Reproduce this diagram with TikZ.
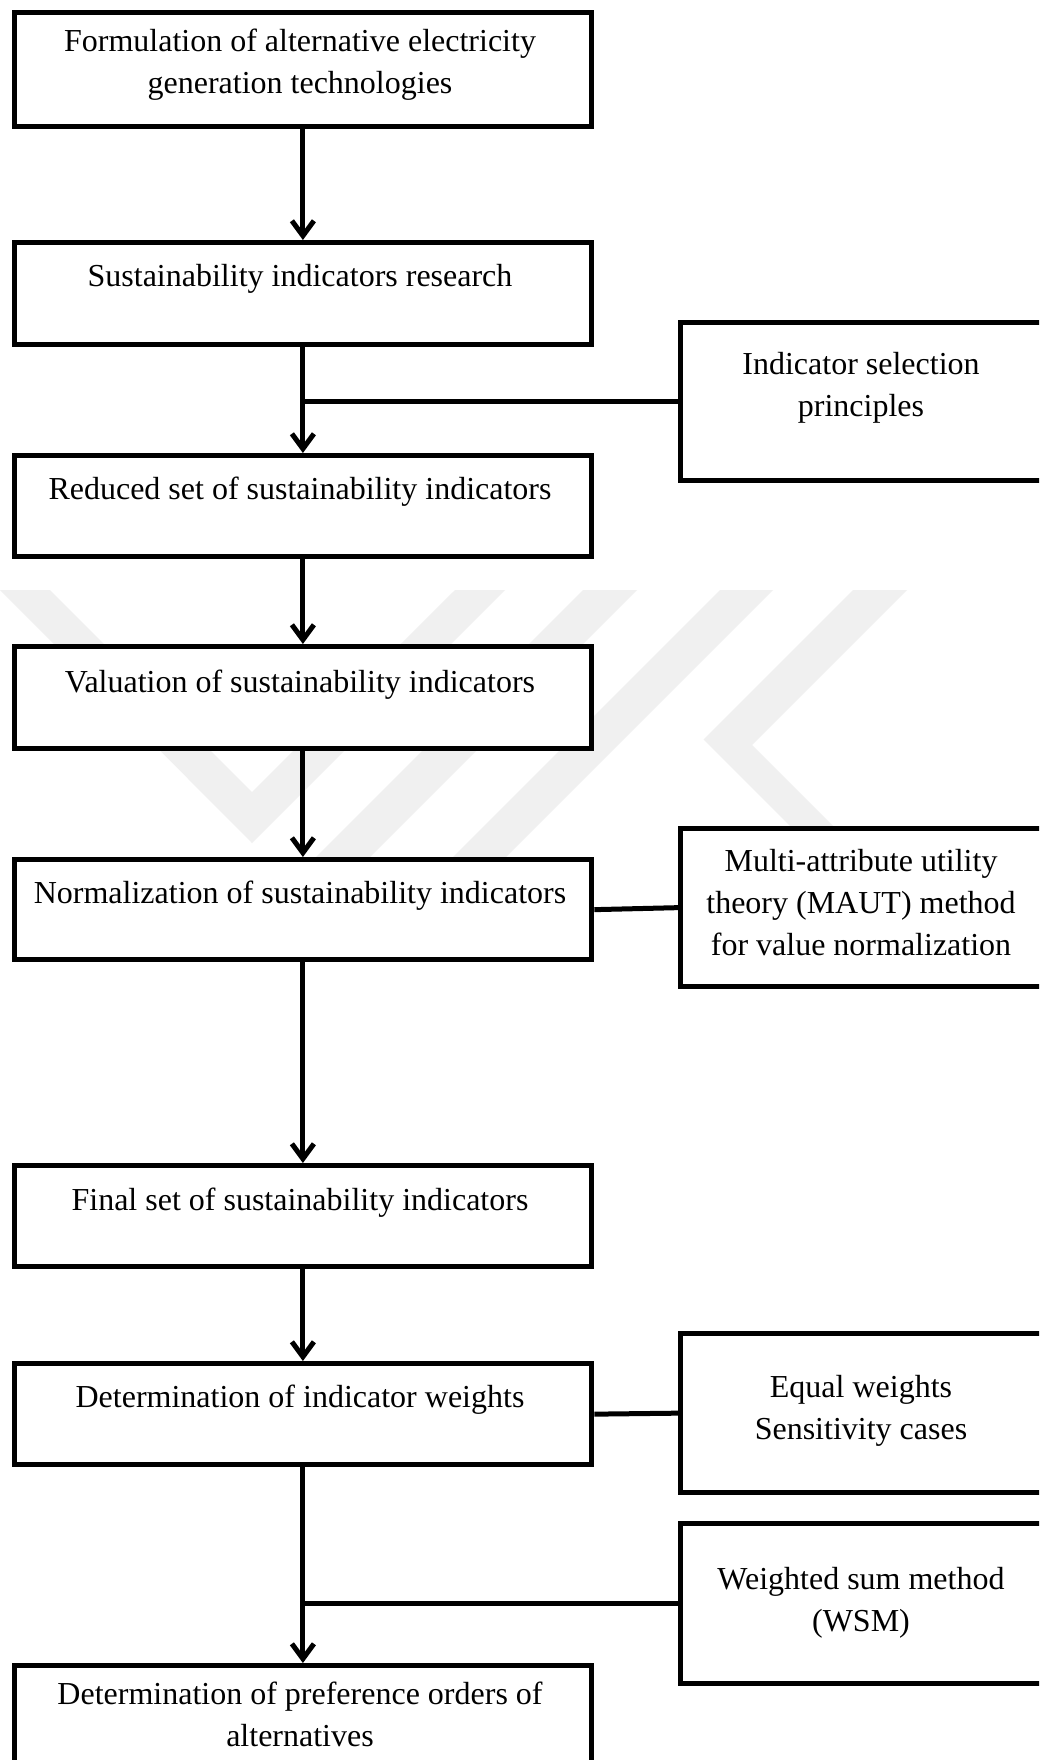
\documentclass[tikz,border=0pt]{standalone}
\usepackage{fontspec}
\setmainfont{Liberation Serif}
\usetikzlibrary{arrows.meta}

\definecolor{wmgray}{RGB}{240,240,240}

\begin{document}
\begin{tikzpicture}[x=1pt, y=-1pt,
  flowbox/.style={draw=black, line width=5.3pt, fill=white, anchor=north west,
    inner sep=0pt, minimum width=577.5pt},
  sidebox/.style={draw=black, line width=5.3pt, fill=white, anchor=north west,
    inner sep=0pt, minimum width=366pt},
  % anchor=base sits on the baseline of the last line
  boxtext/.style={anchor=base, align=center, inner sep=0pt,
    font=\fontsize{32pt}{42pt}\selectfont},
  flowarrow/.style={draw=black, line width=5pt,
    -{Straight Barb[length=15pt, width=22pt]}},
  joinline/.style={draw=black, line width=5pt}
]
\useasboundingbox (0,0) rectangle (1039,1760);
\clip (0,0) rectangle (1039,1760);
\fill[white] (0,0) rectangle (1039,1760);

% faint background mark
\fill[wmgray] (0,590) -- (50,590) -- (252,792) -- (455,590) -- (505,590) -- (252,843) -- cycle;
\fill[wmgray] (583,590) -- (637,590) -- (367,860) -- (313,860) -- cycle;
\fill[wmgray] (720,590) -- (773,590) -- (503,860) -- (450,860) -- cycle;
\fill[wmgray] (853,590) -- (907,590) -- (752,745) -- (887,880) -- (844,880) -- (703.5,739.5) -- cycle;

% main column
\node[flowbox, minimum height=114pt] (b1) at (11.5,10) {};
\node[flowbox, minimum height=102pt] (b2) at (11.5,240) {};
\node[flowbox, minimum height=101pt] (b3) at (11.5,453) {};
\node[flowbox, minimum height=102pt] (b4) at (11.5,644) {};
\node[flowbox, minimum height=100pt] (b5) at (11.5,857) {};
\node[flowbox, minimum height=101pt] (b6) at (11.5,1163) {};
\node[flowbox, minimum height=101pt] (b7) at (11.5,1361) {};
\node[flowbox, minimum height=120pt] (b8) at (11.5,1663) {};

% side column
\node[sidebox, minimum height=158pt] (r1) at (678,320) {};
\node[sidebox, minimum height=158pt] (r2) at (678,826) {};
\node[sidebox, minimum height=159pt] (r3) at (678,1331) {};
\node[sidebox, minimum height=160pt] (r4) at (678,1521) {};

% labels
\node[boxtext] (t1) at (300,94) {Formulation of alternative electricity\\generation technologies};
\node[boxtext] (t2) at (300,287) {Sustainability indicators research};
\node[boxtext] (t3) at (300,499) {Reduced set of sustainability indicators};
\node[boxtext] (t4) at (300,692) {Valuation of sustainability indicators};
\node[boxtext] (t5) at (300,903) {Normalization of sustainability indicators};
\node[boxtext] (t6) at (300,1210) {Final set of sustainability indicators};
\node[boxtext] (t7) at (300,1407) {Determination of indicator weights};
\node[boxtext] (t8) at (300,1746) {Determination of preference orders of\\alternatives};

\node[boxtext] (s1) at (861,416) {Indicator selection\\principles};
\node[boxtext] (s2) at (861,955) {Multi-attribute utility\\theory (MAUT) method\\for value normalization};
\node[boxtext] (s3) at (861,1439) {Equal weights\\Sensitivity cases};
\node[boxtext] (s4) at (861,1631) {Weighted sum method\\(WSM)};

% connectors
\draw[flowarrow] (b1.south) -- (b2.north);
\draw[flowarrow] (b2.south) -- (b3.north);
\draw[joinline] (r1.west) -- (r1.west -| b2.south);
\draw[flowarrow] (b3.south) -- (b4.north);
\draw[flowarrow] (b4.south) -- (b5.north);
\draw[joinline] (b5.east) -- (r2.west);
\draw[flowarrow] (b5.south) -- (b6.north);
\draw[flowarrow] (b6.south) -- (b7.north);
\draw[joinline] (b7.east) -- (r3.west);
\draw[flowarrow] (b7.south) -- (b8.north);
\draw[joinline] (r4.west) -- (r4.west -| b7.south);
\end{tikzpicture}
\end{document}
